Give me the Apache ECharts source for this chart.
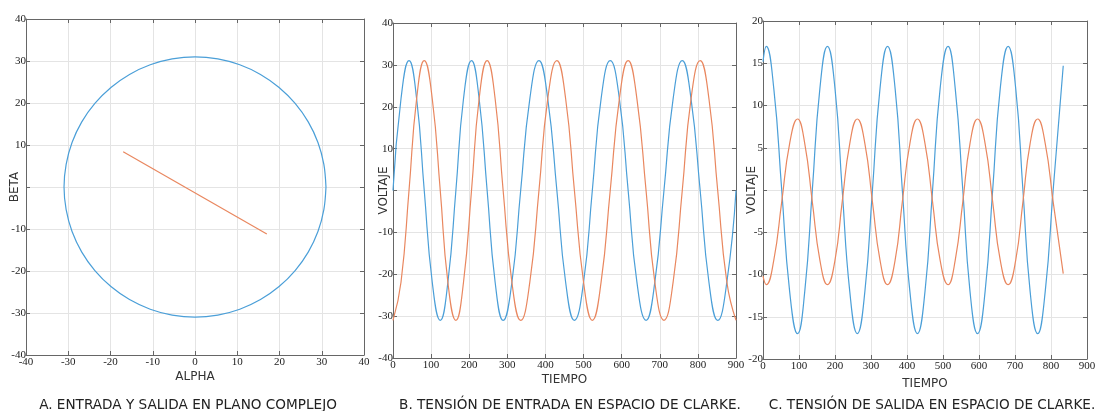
<!DOCTYPE html>
<html>
<head>
<meta charset="utf-8">
<script src="https://cdn.jsdelivr.net/npm/echarts@6/dist/echarts.min.js"></script>
<style>
html,body{margin:0;padding:0;background:#fff;}
#c{width:1099px;height:411px;}
</style>
</head>
<body>
<div id="c"></div>
<script>
// ---- Panel A: complex plane (alpha, beta) ----
const circX = [31, 30.5, 29.1, 26.8, 23.7, 19.9, 15.5, 10.6, 5.4, 0, -5.4, -10.6, -15.5, -19.9, -23.7, -26.8, -29.1, -30.5, -31, -30.5, -29.1, -26.8, -23.7, -19.9, -15.5, -10.6, -5.4, 0, 5.4, 10.6, 15.5, 19.9, 23.7, 26.8, 29.1, 30.5, 31];
const circY = [0, 5.4, 10.6, 15.5, 19.9, 23.7, 26.8, 29.1, 30.5, 31, 30.5, 29.1, 26.8, 23.7, 19.9, 15.5, 10.6, 5.4, 0, -5.4, -10.6, -15.5, -19.9, -23.7, -26.8, -29.1, -30.5, -31, -30.5, -29.1, -26.8, -23.7, -19.9, -15.5, -10.6, -5.4, 0];
const segX = [-17, 17];
const segY = [8.4, -11.2];

// ---- Panel B: input voltage in Clarke space ----
const tB = [0,21,42,62,82,103,124,144,165,185,206,226,247,268,289,312,335,359,383,406,430,453,476,500,523,546,570,594,617,640,664,687,711,735,759,782,806,829,852,876,900];
const blueB = [0,21.9,31,21.9,0,-21.9,-31,-21.9, 0,21.9,31,21.9,0,-21.9,-31,-21.9, 0,21.9,31,21.9,0,-21.9,-31,-21.9, 0,21.9,31,21.9,0,-21.9,-31,-21.9, 0,21.9,31,21.9,0,-21.9,-31,-21.9, 0];
const orangeB = [-31,-21.9,0,21.9,31,21.9,0,-21.9, -31,-21.9,0,21.9,31,21.9,0,-21.9, -31,-21.9,0,21.9,31,21.9,0,-21.9, -31,-21.9,0,21.9,31,21.9,0,-21.9, -31,-21.9,0,21.9,31,21.9,0,-21.9, -31];

// ---- Panel C: output voltage in Clarke space ----
const tC = [0,9,30,52,74,96,116,137,158,179,200,220,241,262,283,304,325,346,367,387,408,429,450,471,492,514,534,555,575,596,617,638,659,681,702,722,742,763,784,806,834];
const blueC = [15.2,17, 12,0,-12,-17, -12,0,12,17, 12,0,-12,-17, -12,0,12,17, 12,0,-12,-17, -12,0,12,17, 12,0,-12,-17, -12,0,12,17, 12,0,-12,-17, -12,0,14.7];
const orangeC = [-10.2,-11.2, -8.3,-1.4,5.5,8.4, 5.5,-1.4,-8.3,-11.2, -8.3,-1.4,5.5,8.4, 5.5,-1.4,-8.3,-11.2, -8.3,-1.4,5.5,8.4, 5.5,-1.4,-8.3,-11.2, -8.3,-1.4,5.5,8.4, 5.5,-1.4,-8.3,-11.2, -8.3,-1.4,5.5,8.4, 5.5,-1.4,-9.9];

// ---- Axis ranges and text ----
const xRanges = { A: [-40, 40, 10], B: [0, 900, 100], C: [0, 900, 100] };
const yRanges = { A: [-40, 40, 10], B: [-40, 40, 10], C: [-20, 20, 5] };
const xNames = { A: 'ALPHA', B: 'TIEMPO', C: 'TIEMPO' };
const yNames = { A: 'BETA', B: 'VOLTAJE', C: 'VOLTAJE' };
const captions = [
  'A. ENTRADA Y SALIDA EN PLANO COMPLEJO',
  'B. TENSIÓN DE ENTRADA EN ESPACIO DE CLARKE.',
  'C. TENSIÓN DE SALIDA EN ESPACIO DE CLARKE.'
];

const BLUE = '#4b9fd8';
const ORANGE = '#e9875f';
const AXIS = '#666666';
const GRIDC = '#e4e4e4';
const TICKFONT = 'Liberation Serif';
const NAMEFONT = 'DejaVu Sans';

const panels = ['A', 'B', 'C'];
const grids = [
  { left: 26, top: 19, width: 338, height: 336 },
  { left: 393, top: 23, width: 343, height: 335 },
  { left: 763, top: 21, width: 324, height: 338 }
];
const xNameGap = [16, 16, 19];
const yNameGap = [5, 3, 5];

const xAxes = [], yAxes = [];
panels.forEach((p, i) => {
  const [xmin, xmax, xint] = xRanges[p];
  const [ymin, ymax, yint] = yRanges[p];
  const common = {
    gridIndex: i, type: 'value',
    axisLine: { show: true, onZero: false, lineStyle: { color: AXIS, width: 1 } },
    axisTick: { show: true, inside: true, length: 4, lineStyle: { color: AXIS } }
  };
  xAxes.push(Object.assign({}, common, {
    position: 'bottom', min: xmin, max: xmax, interval: xint,
    name: xNames[p], nameLocation: 'middle', nameGap: xNameGap[i], nameMoveOverlap: false,
    nameTextStyle: { fontFamily: NAMEFONT, fontSize: 12, color: '#333' },
    axisLabel: { show: true, margin: 2, fontFamily: TICKFONT, fontSize: 11, color: '#222' },
    splitLine: { show: true, lineStyle: { color: GRIDC, width: 1 } }
  }));
  xAxes.push(Object.assign({}, common, {
    position: 'top', min: xmin, max: xmax, interval: xint,
    axisLabel: { show: false }, splitLine: { show: false }
  }));
  yAxes.push(Object.assign({}, common, {
    position: 'left', min: ymin, max: ymax, interval: yint,
    name: yNames[p], nameLocation: 'middle', nameGap: yNameGap[i], nameMoveOverlap: false,
    nameTextStyle: { fontFamily: NAMEFONT, fontSize: 12, color: '#333' },
    axisLabel: { show: true, margin: 0, fontFamily: TICKFONT, fontSize: 11, color: '#222',
      formatter: v => (v === 0 ? '' : String(v)) },
    splitLine: { show: true, lineStyle: { color: GRIDC, width: 1 } }
  }));
  yAxes.push(Object.assign({}, common, {
    position: 'right', min: ymin, max: ymax, interval: yint,
    axisLabel: { show: false }, splitLine: { show: false }
  }));
});

function pairs(xs, ys) { return xs.map((x, k) => [x, ys[k]]); }
function lineSeries(i, data, color, smooth) {
  return {
    type: 'line', xAxisIndex: i * 2, yAxisIndex: i * 2, data: data,
    showSymbol: false, symbol: 'none', smooth: smooth, animation: false,
    lineStyle: { color: color, width: 1.2 }, itemStyle: { color: color }
  };
}

const series = [
  lineSeries(0, pairs(circX, circY), BLUE, 0.35),
  lineSeries(0, pairs(segX, segY), ORANGE, false),
  lineSeries(1, pairs(tB, blueB), BLUE, true),
  lineSeries(1, pairs(tB, orangeB), ORANGE, true),
  lineSeries(2, pairs(tC, blueC), BLUE, true),
  lineSeries(2, pairs(tC, orangeC), ORANGE, true)
];

const capX = [188, 570, 932];
const graphic = captions.map((t, i) => ({
  type: 'text', x: capX[i], y: 405,
  style: { text: t, fill: '#222', font: '13.6px "DejaVu Sans"', textAlign: 'center', textVerticalAlign: 'middle' }
}));

const chart = echarts.init(document.getElementById('c'), null, { renderer: 'canvas' });
chart.setOption({
  animation: false,
  backgroundColor: '#fff',
  grid: grids,
  xAxis: xAxes,
  yAxis: yAxes,
  series: series,
  graphic: graphic
});
</script>
</body>
</html>
